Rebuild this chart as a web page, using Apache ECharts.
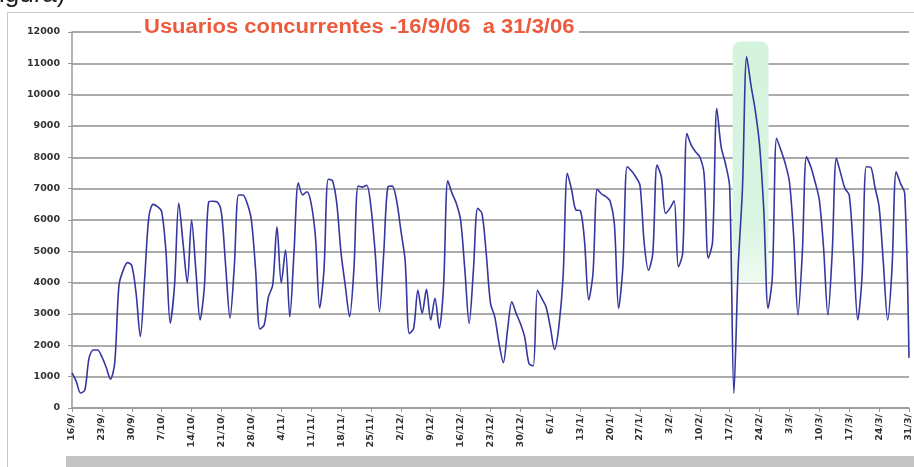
<!DOCTYPE html>
<html>
<head>
<meta charset="utf-8">
<script src="https://cdn.jsdelivr.net/npm/echarts@6/dist/echarts.min.js"></script>
<style>
html,body{margin:0;padding:0;background:#fff;overflow:hidden;}
#c{width:914px;height:467px;}
</style>
</head>
<body>
<div id="c"></div>
<script>
// Title
const titleText = 'Usuarios concurrentes -16/9/06  a 31/3/06';

// First day of the series and number of daily points (16/9/06 .. 31/3/07)
const startDate = [2006, 8, 16];
const dayCount = 197;

// Weekly tick labels (as they appear, truncated)
const tickLabels = ['16/9/','23/9/','30/9/','7/10/','14/10/','21/10/','28/10/','4/11/','11/11/','18/11/','25/11/','2/12/','9/12/','16/12/','23/12/','30/12/','6/1/','13/1/','20/1/','27/1/','3/2/','10/2/','17/2/','24/2/','3/3/','10/3/','17/3/','24/3/','31/3/'];

// Daily concurrent users
const users = [
 1120, 850, 480, 570, 1600, 1850, 1850,
 1630, 1300, 920, 1430, 3920, 4400, 4640,
 4550, 3670, 2280, 4100, 6100, 6500, 6430,
 6270, 5000, 2710, 3900, 6540, 5270, 4000,
 6000, 4400, 2810, 3870, 6580, 6600, 6580,
 6220, 4500, 2870, 4500, 6800, 6800, 6540,
 6000, 4400, 2520, 2650, 3550, 3920, 5780,
 3990, 5040, 2910, 5000, 7190, 6800, 6900,
 6530, 5470, 3190, 4400, 7300, 7250, 6530,
 4950, 3900, 2910, 4400, 7080, 7050, 7110,
 6420, 4950, 3070, 4950, 7060, 7080, 6630,
 5680, 4720, 2380, 2540, 3760, 3020, 3790,
 2810, 3500, 2540, 3870, 7250, 6850, 6530,
 6000, 4400, 2700, 4400, 6370, 6210, 4930,
 3340, 2910, 2060, 1450, 2500, 3390, 3020,
 2700, 2270, 1420, 1340, 3760, 3500, 3230,
 2590, 1870, 2590, 4190, 7490, 6960, 6320,
 6300, 5360, 3450, 4300, 6980, 6830, 6750,
 6610, 5890, 3180, 4510, 7700, 7570, 7380,
 7110, 5250, 4400, 4930, 7750, 7380, 6210,
 6370, 6610, 4510, 4930, 8760, 8390, 8180,
 8020, 7490, 4780, 5310, 9560, 8340, 7810,
 7060, 470, 4500, 7000, 11210, 10300, 9500,
 8400, 6300, 3180, 4190, 8610, 8230, 7810,
 7220, 5470, 2970, 4900, 8020, 7700, 7220,
 6640, 5100, 2970, 4900, 7970, 7490, 7010,
 6800, 4950, 2810, 4190, 7700, 7690, 7060,
 6420, 4620, 2810, 4400, 7540, 7170, 6850,
 1600
];

// Highlighted peak region (in data units: day index, users)
const highlightFrom = [154.7, 11700];
const highlightTo = [163.1, 4000];

const categories = [];
for (let i = 0; i < dayCount; i++) {
  const d = new Date(startDate[0], startDate[1], startDate[2] + i);
  categories.push(d.getDate() + '/' + (d.getMonth() + 1) + '/');
}

const chart = echarts.init(document.getElementById('c'), null, {renderer: 'canvas'});
const baseGraphics = [
  {type: 'line', shape: {x1: 7.5, y1: 12.5, x2: 914, y2: 12.5}, style: {stroke: '#c8c8c8', lineWidth: 1}},
  {type: 'line', shape: {x1: 7.5, y1: 12.5, x2: 7.5, y2: 467}, style: {stroke: '#c8c8c8', lineWidth: 1}},
  {type: 'rect', shape: {x: 66, y: 456, width: 848, height: 11}, style: {fill: '#c4c4c4'}},
  {type: 'text', x: -1, y: -18, style: {text: 'igura)', font: '26px Liberation Sans, Arial', fill: '#222'}},
  {type: 'rect', shape: {x: 141, y: 16, width: 438, height: 22}, style: {fill: '#fff'}, z: 5},
  {type: 'text', x: 144, y: 17, scaleX: 1.1, z: 6,
   style: {text: titleText, font: 'bold 20px Liberation Sans, Arial', fill: '#ee5a3c'}}
];
chart.setOption({
  animation: false,
  backgroundColor: '#fff',
  grid: {left: 72, right: 0, top: 32, bottom: 59},
  xAxis: {
    type: 'category',
    data: categories,
    boundaryGap: false,
    axisLine: {lineStyle: {color: '#9a9a9a', width: 1.5}},
    axisTick: {interval: 6, length: 4, lineStyle: {color: '#9a9a9a'}},
    axisLabel: {
      interval: 6, rotate: 90, margin: 6,
      fontFamily: 'DejaVu Sans', fontSize: 9.5, fontWeight: 'bold', color: '#333',
      formatter: (v, i) => tickLabels[Math.round(i / 7)] || ''
    },
    splitLine: {show: false}
  },
  yAxis: {
    type: 'value', min: 0, max: 12000, interval: 1000,
    axisLine: {show: true, lineStyle: {color: '#9a9a9a', width: 1.5}},
    axisTick: {show: true, length: 4, lineStyle: {color: '#9a9a9a'}},
    axisLabel: {fontFamily: 'DejaVu Sans', fontSize: 9.5, fontWeight: 'bold', color: '#333', margin: 12,
      formatter: v => String(v)},
    splitLine: {lineStyle: {color: '#ababab', width: 2}}
  },
  series: [{
    type: 'line',
    data: users,
    showSymbol: false,
    smooth: 0.3,
    z: 3,
    lineStyle: {color: '#3636a0', width: 1.6}
  }],
  graphic: baseGraphics
});

// pixel position of a fractional day index, through the axis' own scale
function px(dayIdx, val) {
  const i0 = Math.floor(dayIdx), f = dayIdx - i0;
  const a = chart.convertToPixel({gridIndex: 0}, [i0, val]);
  const b = chart.convertToPixel({gridIndex: 0}, [i0 + 1, val]);
  return [a[0] + f * (b[0] - a[0]), a[1]];
}
const p1 = px(highlightFrom[0], highlightFrom[1]);
const p2 = px(highlightTo[0], highlightTo[1]);
chart.setOption({
  graphic: baseGraphics.concat([{
    type: 'rect', z: 1,
    shape: {x: p1[0], y: p1[1], width: p2[0] - p1[0], height: p2[1] - p1[1], r: [8, 8, 0, 0]},
    style: {fill: new echarts.graphic.LinearGradient(0, 0, 0, 1, [
      {offset: 0, color: '#d4f3dd'}, {offset: 0.75, color: '#d8f5e1'}, {offset: 1, color: '#eefaf1'}
    ])}
  }])
});
</script>
</body>
</html>
